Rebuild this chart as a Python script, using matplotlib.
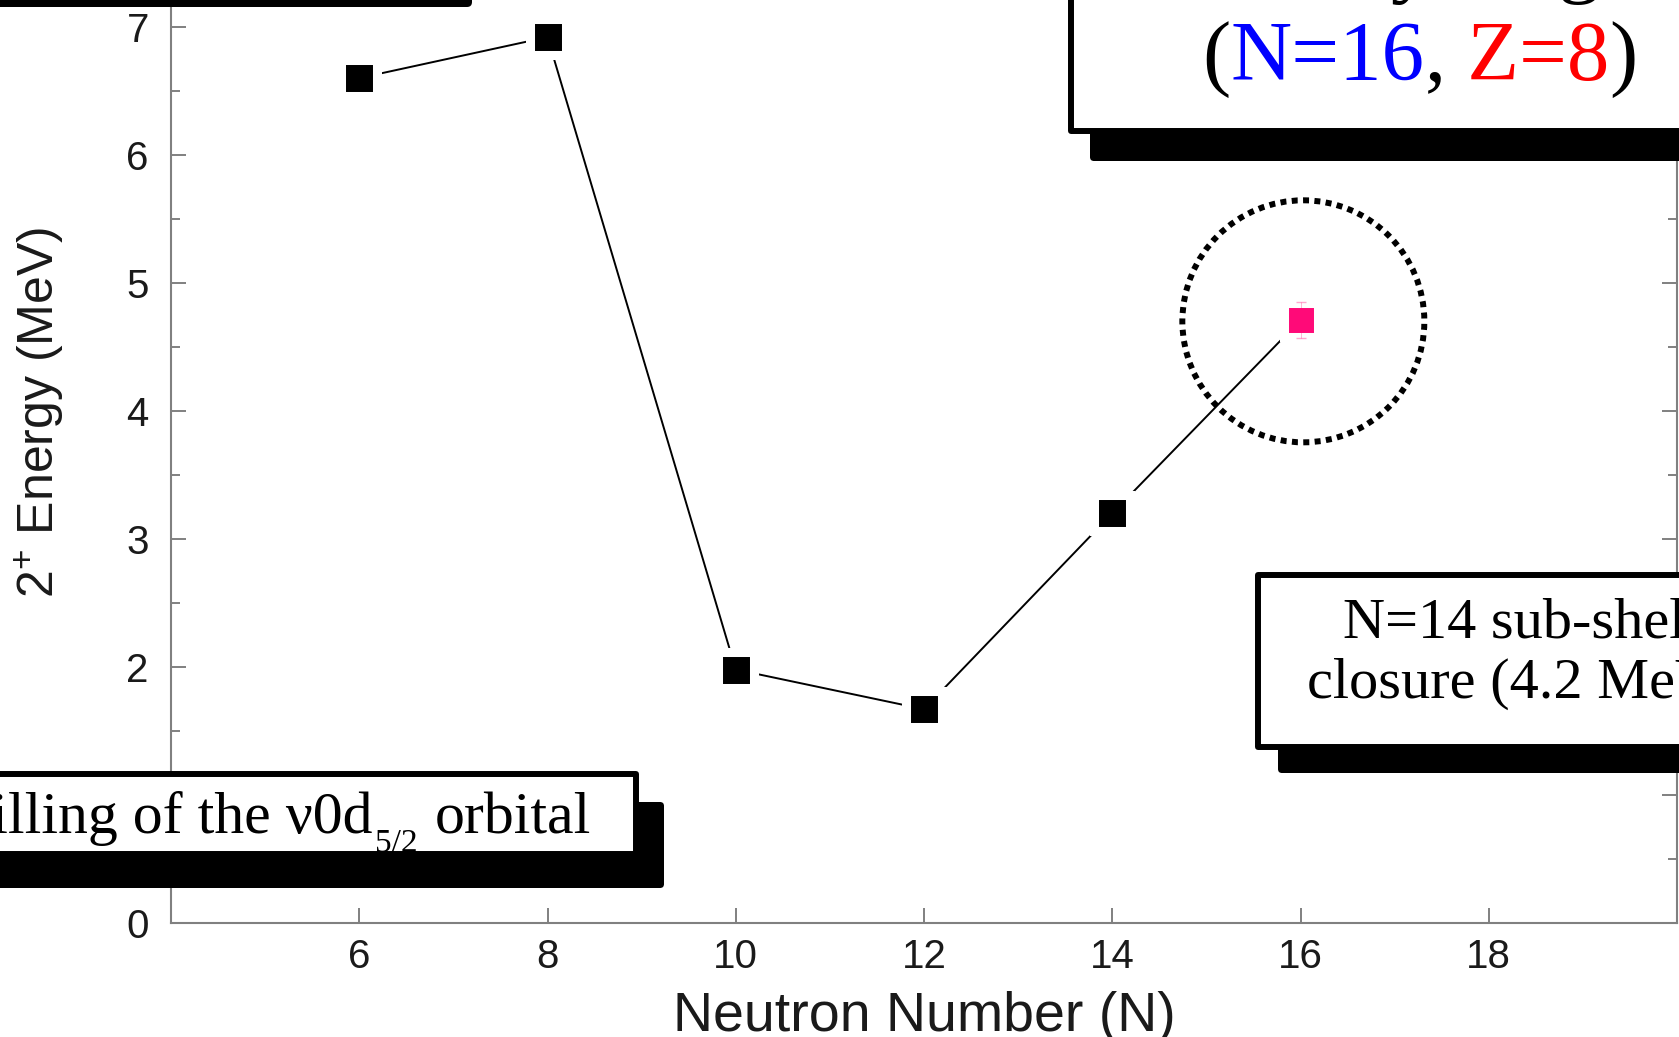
import numpy as np
import matplotlib
matplotlib.use("Agg")
import matplotlib.pyplot as plt
from matplotlib import rcParams
from matplotlib.patches import Rectangle, Ellipse, FancyBboxPatch
from matplotlib.ticker import MultipleLocator

# data: first 2+ excitation energies of oxygen isotopes
neutron_number = [6, 8, 10, 12, 14, 16]
energy_2plus = [6.60, 6.92, 1.98, 1.67, 3.20, 4.71]   # MeV
err_2plus = [0.0, 0.0, 0.0, 0.0, 0.0, 0.14]
x_ticks = [6, 8, 10, 12, 14, 16, 18]
y_ticks = [0, 1, 2, 3, 4, 5, 6, 7]

W, H, dpi = 1679, 1037, 100
serif = "Liberation Serif"
sans = "Liberation Sans"

rcParams["font.family"] = sans
rcParams["mathtext.fontset"] = "custom"
rcParams["mathtext.rm"] = serif
rcParams["mathtext.sf"] = sans

fig = plt.figure(figsize=(W / dpi, H / dpi), dpi=dpi)

# main axes (pixel frame)
ax = fig.add_axes([171 / W, 1 - 923 / H, 1506 / W, 923 / H])
ax.set_xlim(4, 20)
ax.set_ylim(0, 7.21)

grey = "#808080"
for s in ["left", "bottom", "right"]:
    ax.spines[s].set_color(grey)
    ax.spines[s].set_linewidth(1.5)
ax.spines["top"].set_visible(False)

ax.set_xticks(x_ticks)
ax.set_yticks(y_ticks)
ax.yaxis.set_minor_locator(MultipleLocator(0.5))
ax.tick_params(which="both", direction="in", color=grey, width=1.4,
               right=True, top=False, labelright=False, labelsize=29,
               labelcolor="#1a1a1a")
ax.tick_params(which="major", length=11)
ax.tick_params(which="minor", length=6.5)
ax.tick_params(axis="y", pad=16)
ax.tick_params(axis="x", pad=11)

ax.set_xlabel("Neutron Number (N)", fontsize=40, color="#1a1a1a")
ax.xaxis.label.set_va("baseline")
ax.xaxis.set_label_coords(0.5, -0.117)
ax.set_ylabel("2$^{\\mathsf{+}}$ Energy (MeV)", fontsize=36, color="#1a1a1a")
ax.yaxis.label.set_va("center")
ax.yaxis.set_label_coords(-0.0876, 0.5536)

# line + markers (white rim leaves the little gap at the line ends)
ax.plot(neutron_number, energy_2plus, color="k", lw=1.4, zorder=2)
ax.plot(neutron_number[:-1], energy_2plus[:-1], "s", ms=26, mfc="k",
        mec="white", mew=6.5, zorder=3)
ax.plot(neutron_number[-1:], energy_2plus[-1:], "s", ms=25, mfc="#ff0a78",
        mec="white", mew=6.5, zorder=3)
ax.errorbar(neutron_number[-1:], energy_2plus[-1:], yerr=err_2plus[-1:],
            fmt="none", ecolor="#ff0a78", elinewidth=0.6, capsize=3.5,
            alpha=0.35, zorder=4)

# dotted ring around N=16
ax.add_patch(Ellipse((16.03, 4.70), 2 * 121 / 94.125, 2 * 121 / 128,
                     fill=False, ec="k", lw=4.3, ls=(0, (1, 0.9)),
                     capstyle="butt", zorder=1))

# overlay in figure pixels for the callout boxes
ov = fig.add_axes([0, 0, 1, 1], zorder=5)
ov.set_xlim(0, W)
ov.set_ylim(H, 0)
ov.axis("off")
ov.patch.set_alpha(0)

blw = 4.3


def shadow_box(x0, y0, x1, y1, dx, dy):
    ov.add_patch(FancyBboxPatch((x0 + dx, y0 + dy), x1 - x0, y1 - y0,
                                boxstyle="round,pad=0,rounding_size=4",
                                fc="k", ec="none"))
    ov.add_patch(Rectangle((x0 + 3, y0 + 3), x1 - x0 - 6, y1 - y0 - 6,
                           fc="white", ec="k", lw=blw, joinstyle="round"))


# top-left fragment of a box
ov.add_patch(FancyBboxPatch((-60, -60), 532, 67,
                            boxstyle="round,pad=0,rounding_size=5",
                            fc="k", ec="none"))
# top-right box
shadow_box(1068, -80, 1800, 134, 22, 27)
# right box
shadow_box(1255, 572, 1800, 750, 23, 23)
# bottom-left box
shadow_box(-80, 771, 639, 857, 25, 31)

renderer = fig.canvas.get_renderer()

# "Filling of the v0d5/2 orbital" built from pieces, right edge at x=591
t_orb = ov.text(591, 833, "orbital", family=serif, fontsize=43,
                ha="right", va="baseline")
w_orb = t_orb.get_window_extent(renderer).width
t_sub = ov.text(591 - w_orb - 17, 852, "5/2", family=serif, fontsize=24,
                ha="right", va="baseline")
w_sub = t_sub.get_window_extent(renderer).width
ov.text(591 - w_orb - 17 - w_sub - 2, 833, "Filling of the \u03bd0d",
        family=serif, fontsize=43, ha="right", va="baseline")

ov.text(1343, 637, "N=14 sub-shell", family=serif, fontsize=42,
        ha="left", va="baseline")
ov.text(1307, 698, "closure (4.2 MeV)", family=serif, fontsize=42,
        ha="left", va="baseline")

ov.text(1420, -13, "Doubly magic", family=serif, fontsize=61,
        ha="center", va="baseline")

parts = [("(", "k"), ("N=16", "#0000ff"), (",", "k"), (" Z=8", "#ff0000"),
         (")", "k")]
full = "".join(p[0] for p in parts)
tt = ov.text(0, 80, full, family=serif, fontsize=61, alpha=0)
wfull = tt.get_window_extent(renderer).width
x0 = 1420 - wfull / 2
prefix = ""
for s, c in parts:
    if prefix:
        tmp = ov.text(0, 80, prefix, family=serif, fontsize=61)
        off = tmp.get_window_extent(renderer).width
        tmp.remove()
    else:
        off = 0
    ov.text(x0 + off, 80, s, family=serif, fontsize=61, color=c,
            ha="left", va="baseline")
    prefix += s

fig.savefig("out.png", dpi=dpi)
